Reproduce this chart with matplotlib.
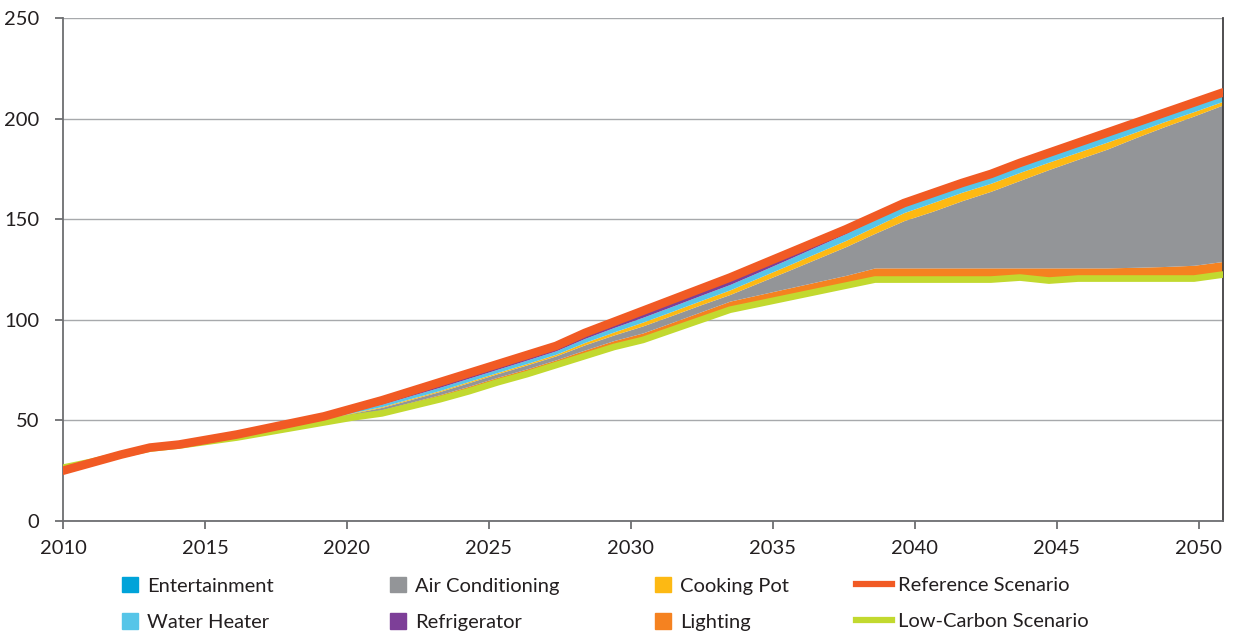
import numpy as np
import matplotlib.pyplot as plt
from matplotlib.patches import Patch
from matplotlib.lines import Line2D

plt.rcParams['font.family'] = ['Lato', 'DejaVu Sans']

years = list(range(2010, 2051))

low_carbon = [26.5, 29.5, 33, 36, 37.5, 39.5, 41.5, 44, 46.5, 49,
              51.5, 53.5, 57, 60.5, 64.5, 69, 73, 77.5, 82, 86.5,
              90, 95, 100, 105, 108, 111, 114, 117, 120, 120,
              120, 120, 120, 121, 119.5, 120.5, 120.5, 120.5, 120.5, 120.5,
              122.5]
reference = [25, 29, 33, 36.5, 38, 40.5, 43, 46, 49, 52,
             56, 60, 64.5, 69, 73.5, 78, 82.5, 87, 93.5, 99,
             104.5, 110, 115.5, 121, 127, 133, 139, 145, 151.5, 158,
             163, 168, 172.5, 178, 183, 188, 193, 198, 203, 208,
             213]

# savings wedges between the two scenarios, bottom to top
lighting = [0, 0, 0, 0.2, 0.2, 0.3, 0.4, 0.5, 0.6, 0.8,
            1.2, 1.8, 2.0, 2.3, 2.5, 2.5, 2.6, 2.6, 3.0, 3.2,
            3.5, 3.7, 4.0, 4.3, 4.5, 4.7, 4.9, 5.1, 5.8, 5.8,
            5.8, 5.8, 5.8, 4.8, 6.3, 5.3, 5.3, 5.6, 6.0, 6.6,
            6.5]
air_conditioning = [0, 0, 0, 0.1, 0.1, 0.2, 0.3, 0.4, 0.5, 0.6,
                    0.9, 1.2, 1.4, 1.6, 1.8, 1.8, 2.0, 2.0, 2.6, 2.8,
                    3.5, 3.5, 3.5, 3.3, 6.0, 8.7, 11.5, 14.3, 17.2, 23.5,
                    28.2, 33.4, 38.1, 43.5, 48.9, 54.0, 59.0, 64.5, 69.6, 74.2,
                    77.8]
cooking_pot = [0, 0, 0, 0, 0, 0.1, 0.1, 0.1, 0.2, 0.2,
               0.3, 0.4, 0.5, 0.5, 0.6, 0.6, 0.7, 0.8, 1.2, 1.5,
               1.9, 2.0, 2.1, 2.3, 2.5, 2.7, 2.9, 3.1, 3.4, 4.0,
               4.3, 4.2, 4.0, 4.0, 3.7, 3.5, 3.5, 2.8, 2.5, 2.2,
               1.8]
water_heater = [0, 0, 0, 0.1, 0.1, 0.2, 0.3, 0.4, 0.5, 0.6,
                0.9, 1.2, 1.4, 1.6, 1.6, 1.6, 1.7, 1.7, 2.0, 2.2,
                2.4, 2.5, 2.6, 2.7, 2.8, 3.0, 3.2, 3.4, 3.6, 3.7,
                3.8, 3.8, 3.8, 3.9, 3.9, 3.9, 3.9, 3.8, 3.8, 3.7,
                3.6]
refrigerator = [0, 0, 0, 0.1, 0.1, 0.2, 0.4, 0.6, 0.7, 0.8,
                1.2, 1.9, 2.2, 2.5, 2.5, 2.5, 2.5, 2.4, 2.7, 2.8,
                3.2, 3.3, 3.3, 3.4, 3.2, 2.9, 2.5, 2.1, 1.5, 1.0,
                0.9, 0.8, 0.8, 0.8, 0.7, 0.8, 0.8, 0.8, 0.8, 0.8,
                0.8]
# hidden under the reference line in the source
entertainment = [0, 0, 0, 0, 0, 0, 0, 0, 0, 0,
                 0.1, 0.1, 0.1, 0.1, 0.1, 0.1, 0.1, 0.1, 0.1, 0.1,
                 0.1, 0.1, 0.1, 0.1, 0.1, 0.1, 0.1, 0.1, 0.1, 0.1,
                 0.1, 0.1, 0.1, 0.1, 0.1, 0.1, 0.1, 0.1, 0.1, 0.1,
                 0.1]

tick_years = [2010, 2015, 2020, 2025, 2030, 2035, 2040, 2045, 2050]

layers = [
    ("Lighting", lighting, "#f58220"),
    ("Air Conditioning", air_conditioning, "#939598"),
    ("Cooking Pot", cooking_pot, "#fdb913"),
    ("Water Heater", water_heater, "#56c5e8"),
    ("Refrigerator", refrigerator, "#7d3f98"),
    ("Entertainment", entertainment, "#00a3d9"),
]
colors = {name: c for name, _, c in layers}
ref_color = "#f15a24"
low_color = "#c2d92f"
text_color = "#231f20"

fig = plt.figure(figsize=(12.36, 6.39), dpi=100)
ax = fig.add_axes([63 / 1236, 118 / 639, 1160 / 1236, 503 / 639])

x = np.arange(len(years))
base = np.array(low_carbon, dtype=float)
for name, vals, c in layers:
    top = base + np.array(vals)
    ax.fill_between(x, base, top, color=c, lw=0, zorder=2)
    base = top

ax.plot(x, low_carbon, color=low_color, lw=4.8, solid_capstyle="round", zorder=3)
ax.plot(x, reference, color=ref_color, lw=6.2, solid_capstyle="round", zorder=4)

# the source spaces its year labels a bit tighter than the data points
step = 28.4 / 29
ax.set_xticks([(y - 2010) * step for y in tick_years])
ax.set_xticklabels([str(y) for y in tick_years])
ax.set_xlim(0, len(years) - 1)
ax.set_ylim(0, 250)
ax.set_yticks(range(0, 251, 50))

ax.yaxis.grid(True, color="#a7a9ac", lw=1)
ax.set_axisbelow(True)
for s in ["left", "bottom"]:
    ax.spines[s].set_color("#6d6e71")
    ax.spines[s].set_linewidth(1.3)
ax.spines["right"].set_color("#414042")
ax.spines["right"].set_linewidth(1.3)
ax.spines["top"].set_visible(False)
ax.tick_params(axis="both", direction="out", length=6, width=1.3,
               color="#6d6e71", labelsize=14.5, labelcolor=text_color)
ax.tick_params(axis="x", pad=8)
ax.tick_params(axis="y", pad=11)

columns = [
    (0.0987, [Patch(color=colors["Entertainment"]), Patch(color=colors["Water Heater"])],
     ["Entertainment", "Water Heater"]),
    (0.3155, [Patch(color=colors["Air Conditioning"]), Patch(color=colors["Refrigerator"])],
     ["Air Conditioning", "Refrigerator"]),
    (0.5299, [Patch(color=colors["Cooking Pot"]), Patch(color=colors["Lighting"])],
     ["Cooking Pot", "Lighting"]),
]
for xpos, handles, labels in columns:
    fig.legend(handles, labels, loc="upper left", bbox_to_anchor=(xpos, 0.097),
               frameon=False, fontsize=14.5, borderpad=0, borderaxespad=0,
               handlelength=0.8, handleheight=0.8, handletextpad=0.45,
               labelspacing=0.93, labelcolor=text_color)

line_handles = [Line2D([0], [0], color=ref_color, lw=4.5),
                Line2D([0], [0], color=low_color, lw=4.5)]
fig.legend(line_handles, ["Reference Scenario", "Low-Carbon Scenario"],
           loc="upper left", bbox_to_anchor=(0.6926, 0.097), frameon=False,
           fontsize=14.5, borderpad=0, borderaxespad=0, handlelength=1.8,
           handletextpad=0.3, labelspacing=0.93, labelcolor=text_color)

fig.savefig("out.png", dpi=100)
